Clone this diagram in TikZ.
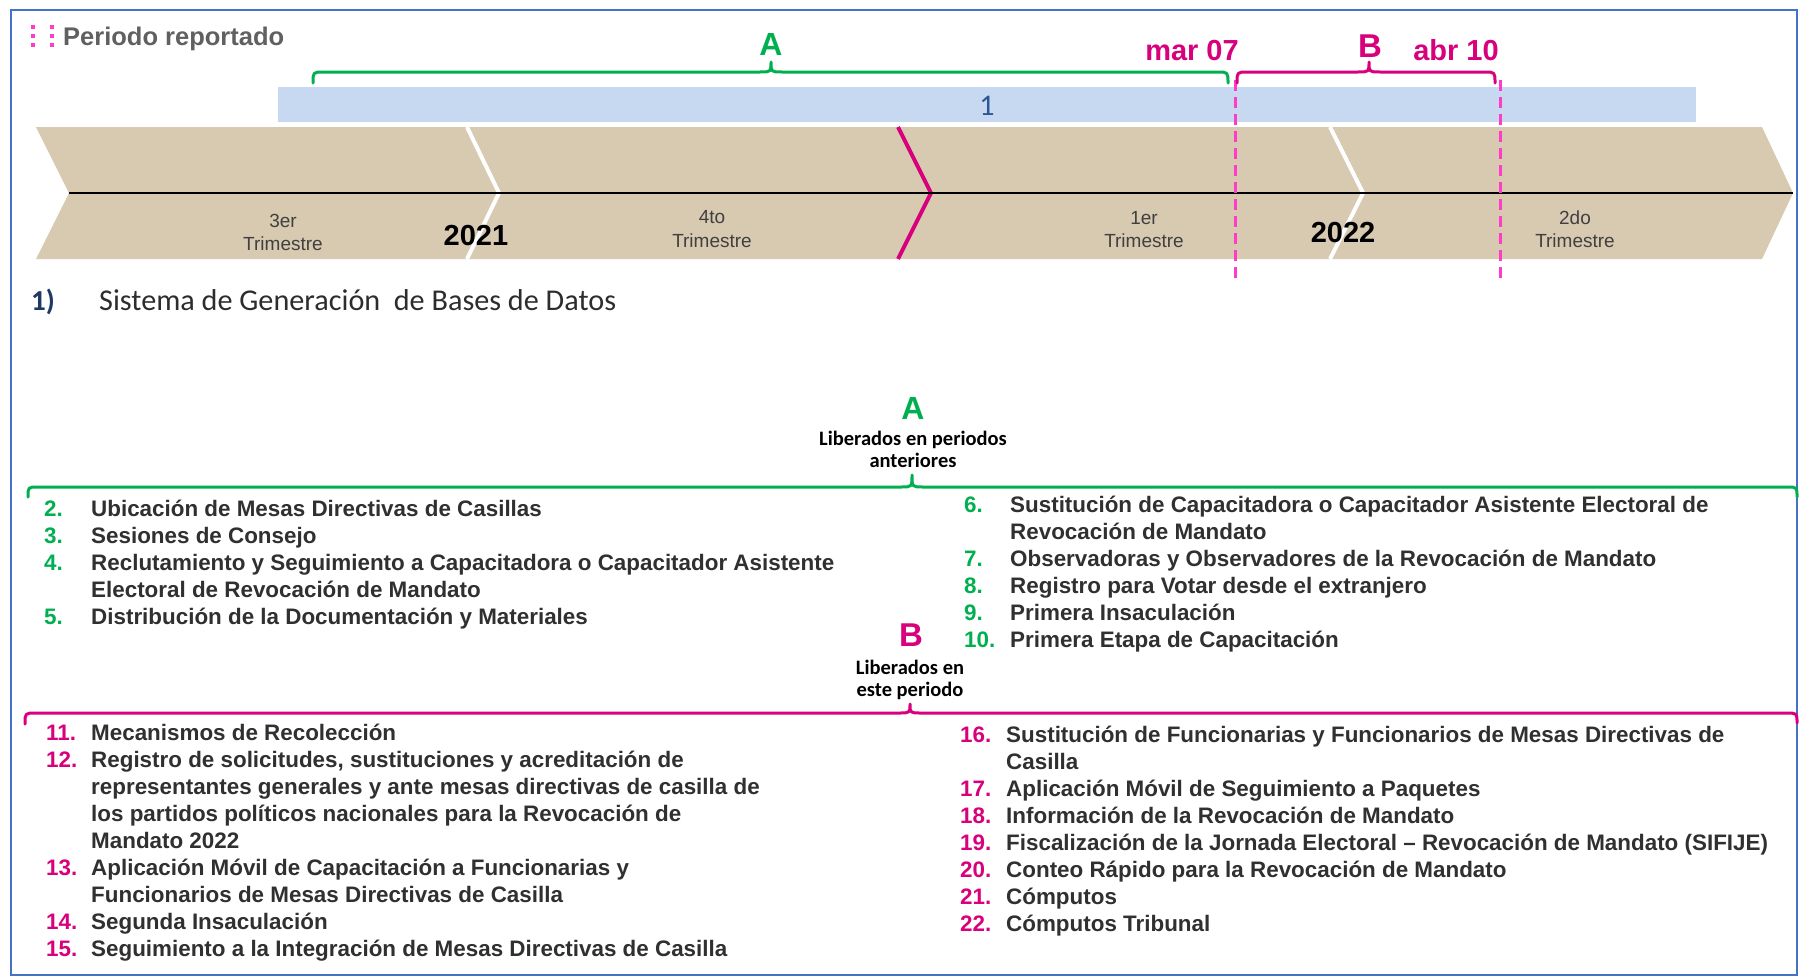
\documentclass[tikz,border=0pt]{standalone}
\usepackage{fontspec}
\setmainfont{Liberation Sans}
\newfontfamily\carlito{Carlito}
\definecolor{frameblue}{RGB}{68,114,196}
\definecolor{barblue}{RGB}{198,217,240}
\definecolor{numblue}{RGB}{47,85,151}
\definecolor{tanfill}{RGB}{216,201,177}
\definecolor{grn}{RGB}{0,176,80}
\definecolor{mag}{RGB}{216,0,124}
\definecolor{pinkdash}{RGB}{255,60,200}
\definecolor{txtgray}{RGB}{64,64,64}
\definecolor{ttlgray}{RGB}{45,45,45}
\definecolor{itemgray}{RGB}{48,48,48}
\definecolor{hdrgray}{RGB}{96,96,96}
\definecolor{navy}{RGB}{31,56,100}
\newcommand\itemfont{\fontsize{22.4}{27}\selectfont\bfseries}
\newcommand\trimfont{\fontsize{19}{23}\selectfont}
\tikzset{
  itm/.style={anchor=base west, inner sep=0pt, font=\itemfont, text=itemgray},
  numA/.style={anchor=base west, inner sep=0pt, font=\itemfont, text=grn},
  numB/.style={anchor=base west, inner sep=0pt, font=\itemfont, text=mag},
  trim/.style={anchor=base, inner sep=0pt, font=\trimfont, text=txtgray},
  year/.style={anchor=base, inner sep=0pt, font=\fontsize{29}{32}\selectfont\bfseries, text=black},
  lib/.style={anchor=base, inner sep=0pt, font=\carlito\fontsize{20.5}{22}\selectfont\bfseries, text=black},
  bigA/.style={anchor=base, inner sep=0pt, font=\fontsize{32}{34}\selectfont\bfseries, text=grn},
  bigB/.style={anchor=base, inner sep=0pt, font=\fontsize{33}{34}\selectfont\bfseries, text=mag},
  datelbl/.style={anchor=base, inner sep=0pt, font=\fontsize{29}{32}\selectfont\bfseries, text=mag},
  bracegrn/.style={draw=grn, line width=3pt, line cap=round, line join=round},
  bracemag/.style={draw=mag, line width=3pt, line cap=round, line join=round},
  pdash/.style={draw=pinkdash, line width=3pt, dash pattern=on 11pt off 6pt},
}
\begin{document}
\begin{tikzpicture}[x=1pt,y=-1pt]
\useasboundingbox (0,0) rectangle (1799,977);
\fill[white] (0,0) rectangle (1799,977);
\draw[frameblue, line width=2pt] (11,10) rectangle (1797,975);

% header
\foreach \xx in {33,52}{
  \foreach \yy in {27,36,45}{
    \fill[pinkdash] (\xx-2,\yy-2) rectangle (\xx+2,\yy+2);
  }
}
\node[anchor=base west, inner sep=0pt, font=\fontsize{25.5}{28}\selectfont\bfseries, text=hdrgray] (hdr) at (63,45) {Periodo reportado};

% blue bar
\fill[barblue] (278,87) rectangle (1696,122);
\node[anchor=base, inner sep=0pt, font=\carlito\fontsize{30}{32}\selectfont, text=numblue] (one) at (987,115) {1};

% chevron band
\fill[tanfill] (36,127) -- (1762,127) -- (1793,193) -- (1762,259) -- (36,259) -- (69,193) -- cycle;
\draw[white, line width=4pt] (467,127) -- (499,193) -- (467,259);
\draw[white, line width=4pt] (1330,127) -- (1363,193) -- (1330,259);
\draw[mag, line width=4pt] (898,127) -- (931,193) -- (898,259);
\coordinate (tlL) at (69,193);
\coordinate (tlR) at (1793,193);
\draw[black, line width=2.5pt] (tlL) -- (tlR);

\node[trim] (q3a) at (283,227) {3er};
\node[trim] (q3b) at (283,250) {Trimestre};
\node[trim] (q4a) at (712,223) {4to};
\node[trim] (q4b) at (712,247) {Trimestre};
\node[trim] (q1a) at (1144,224) {1er};
\node[trim] (q1b) at (1144,247) {Trimestre};
\node[trim] (q2a) at (1575,224) {2do};
\node[trim] (q2b) at (1575,247) {Trimestre};
\node[year] (y21) at (476,245) {2021};
\node[year] (y22) at (1343,242) {2022};

% dashed date lines
\coordinate (d1t) at (1235,80); \coordinate (d1b) at (1235,278);
\coordinate (d2t) at (1500,80); \coordinate (d2b) at (1500,278);
\draw[pdash] (d1t) -- (d1b);
\draw[pdash] (d2t) -- (d2b);

% top braces
\draw[bracegrn] (313,83) .. controls (313,72) .. (324,72) -- (760,72)
  .. controls (771,72) .. (771,62) .. controls (771,72) .. (782,72) -- (1217,72)
  .. controls (1228,72) .. (1228,83);
\draw[bracemag] (1237,83) .. controls (1237,72) .. (1248,72) -- (1358,72)
  .. controls (1369,72) .. (1369,62) .. controls (1369,72) .. (1380,72) -- (1484,72)
  .. controls (1495,72) .. (1495,83);
\node[bigA] (topA) at (771,55) {A};
\node[bigB] (topB) at (1370,57) {B};
\node[datelbl] (mar) at (1192,60) {mar 07};
\node[datelbl] (abr) at (1456,60) {abr 10};

% section title
\node[anchor=base west, inner sep=0pt, font=\carlito\fontsize{29}{32}\selectfont\bfseries, text=navy] (sec) at (31,310) {1)};
\node[anchor=base west, inner sep=0pt, font=\carlito\fontsize{30.2}{32}\selectfont, text=ttlgray] (sectitle) at (99,310) {Sistema de Generación\ \ de Bases de Datos};

% group A label and brace
\node[bigA] (midA) at (913,419) {A};
\node[lib] (libA1) at (913,445) {Liberados en periodos};
\node[lib] (libA2) at (913,467) {anteriores};
\draw[bracegrn] (28,497) .. controls (28,487) .. (38,487) -- (901,487)
  .. controls (912,487) .. (912,475) .. controls (912,487) .. (923,487) -- (1787,487)
  .. controls (1797,487) .. (1797,497);

% group A items left
\node[numA] (n2) at (44,516) {2.};
\node[itm] (t2) at (91,516) {Ubicación de Mesas Directivas de Casillas};
\node[numA] (n3) at (44,543) {3.};
\node[itm] (t3) at (91,543) {Sesiones de Consejo};
\node[numA] (n4) at (44,570) {4.};
\node[itm] (t4a) at (91,570) {Reclutamiento y Seguimiento a Capacitadora o Capacitador Asistente};
\node[itm] (t4b) at (91,597) {Electoral de Revocación de Mandato};
\node[numA] (n5) at (44,624) {5.};
\node[itm] (t5) at (91,624) {Distribución de la Documentación y Materiales};

% group A items right
\node[numA] (n6) at (964,512) {6.};
\node[itm] (t6a) at (1010,512) {Sustitución de Capacitadora o Capacitador Asistente Electoral de};
\node[itm] (t6b) at (1010,539) {Revocación de Mandato};
\node[numA] (n7) at (964,566) {7.};
\node[itm] (t7) at (1010,566) {Observadoras y Observadores de la Revocación de Mandato};
\node[numA] (n8) at (964,593) {8.};
\node[itm] (t8) at (1010,593) {Registro para Votar desde el extranjero};
\node[numA] (n9) at (964,620) {9.};
\node[itm] (t9) at (1010,620) {Primera Insaculación};
\node[numA] (n10) at (964,647) {10.};
\node[itm] (t10) at (1010,647) {Primera Etapa de Capacitación};

% group B label and brace
\node[bigB] (midB) at (911,646) {B};
\node[lib] (libB1) at (910,674) {Liberados en};
\node[lib] (libB2) at (910,696) {este periodo};
\draw[bracemag] (25,724) .. controls (25,713) .. (36,713) -- (899,713)
  .. controls (910,713) .. (910,704) .. controls (910,713) .. (921,713) -- (1786,713)
  .. controls (1797,713) .. (1797,723);

% group B items left
\node[numB] (n11) at (46,740) {11.};
\node[itm] (t11) at (91,740) {Mecanismos de Recolección};
\node[numB] (n12) at (46,767) {12.};
\node[itm] (t12a) at (91,767) {Registro de solicitudes, sustituciones y acreditación de};
\node[itm] (t12b) at (91,794) {representantes generales y ante mesas directivas de casilla de};
\node[itm] (t12c) at (91,821) {los partidos políticos nacionales para la Revocación de};
\node[itm] (t12d) at (91,848) {Mandato 2022};
\node[numB] (n13) at (46,875) {13.};
\node[itm] (t13a) at (91,875) {Aplicación Móvil de Capacitación a Funcionarias y};
\node[itm] (t13b) at (91,902) {Funcionarios de Mesas Directivas de Casilla};
\node[numB] (n14) at (46,929) {14.};
\node[itm] (t14) at (91,929) {Segunda Insaculación};
\node[numB] (n15) at (46,956) {15.};
\node[itm] (t15) at (91,956) {Seguimiento a la Integración de Mesas Directivas de Casilla};

% group B items right
\node[numB] (n16) at (960,742) {16.};
\node[itm] (t16a) at (1006,742) {Sustitución de Funcionarias y Funcionarios de Mesas Directivas de};
\node[itm] (t16b) at (1006,769) {Casilla};
\node[numB] (n17) at (960,796) {17.};
\node[itm] (t17) at (1006,796) {Aplicación Móvil de Seguimiento a Paquetes};
\node[numB] (n18) at (960,823) {18.};
\node[itm] (t18) at (1006,823) {Información de la Revocación de Mandato};
\node[numB] (n19) at (960,850) {19.};
\node[itm] (t19) at (1006,850) {Fiscalización de la Jornada Electoral – Revocación de Mandato (SIFIJE)};
\node[numB] (n20) at (960,877) {20.};
\node[itm] (t20) at (1006,877) {Conteo Rápido para la Revocación de Mandato};
\node[numB] (n21) at (960,904) {21.};
\node[itm] (t21) at (1006,904) {Cómputos};
\node[numB] (n22) at (960,931) {22.};
\node[itm] (t22) at (1006,931) {Cómputos Tribunal};
\end{tikzpicture}
\end{document}
